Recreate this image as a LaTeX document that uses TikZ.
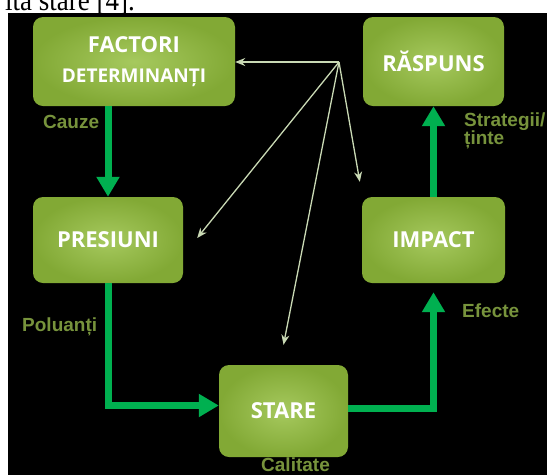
\documentclass[tikz,border=0pt]{standalone}
\usepackage{fontspec}
\setmainfont{Liberation Serif}
\newfontfamily\boxfont{Open Sans}
\newfontfamily\lblfont{Liberation Sans}
\usetikzlibrary{arrows.meta}

\definecolor{boxlight}{HTML}{A6C95E}
\definecolor{boxdark}{HTML}{82A935}
\definecolor{flowgreen}{HTML}{00B050}
\definecolor{lblgreen}{HTML}{77933C}
\definecolor{thinline}{HTML}{C9D9B4}

\tikzset{
  stage/.style={rounded corners=10pt, inner color=boxlight, outer color=boxdark,
    text=white, font=\boxfont\bfseries\fontsize{22}{28}\selectfont,
    align=center, inner sep=0pt},
  flow/.style={flowgreen, line width=7pt, line join=miter,
    -{Triangle[width=22pt,length=20pt]}},
  link/.style={thinline, line width=1.3pt, -{Stealth[width=8pt,length=10pt]}},
  lbl/.style={text=lblgreen, font=\lblfont\bfseries\fontsize{19}{18}\selectfont,
    inner sep=0pt, anchor=base west},
}

\begin{document}
\begin{tikzpicture}[x=1pt,y=-1pt]
  \useasboundingbox (0,0) rectangle (547,475);
  % text of the page above the figure
  \node[anchor=base west, inner sep=0pt, font=\fontsize{30}{30}\selectfont] (cite) at (5,10) {\scalebox{0.9}[1]{ită stare [4].}};
  \fill[black] (8,13) rectangle (547,475);

  % Stages (manual placement)
  \node[stage, minimum width=202pt, minimum height=89pt, font=\boxfont\bfseries\fontsize{22}{30}\selectfont] (fact) at (134,61.5) {FACTORI\\{\fontsize{19}{29}\selectfont DETERMINANȚI}};
  \node[stage, minimum width=141pt, minimum height=89pt] (rasp) at (433.5,61.5) {RĂSPUNS};
  \node[stage, minimum width=150pt, minimum height=86pt] (pres) at (108,240) {PRESIUNI};
  \node[stage, minimum width=143pt, minimum height=86pt] (imp) at (433.5,240) {IMPACT};
  \node[stage, minimum width=129pt, minimum height=92pt] (stare) at (283.5,411) {STARE};

  % labels
  \node[lbl] (cauze) at (43,128) {Cauze};
  \node[lbl, align=left, anchor=north west] (strat) at (464,113) {Strategii/\\ținte};
  \node[lbl] (polu) at (22,331) {Poluanți};
  \node[lbl] (efect) at (462,317) {Efecte};
  \node[lbl] (calit) at (261,471) {Calitate};

  % DPSIR cycle
  \draw[flow] (fact.south -| pres) -- (pres.north);
  \draw[flow] (pres.south) |- ([yshift=5.5pt]stare.west);
  \draw[flow] ([yshift=3pt]stare.east) -| ([yshift=-9pt]imp.south);
  \draw[flow] (imp.north) -- (rasp.south);

  % links from the common point
  \coordinate (hub) at (339,62);
  \draw[link] (hub) -- (fact.east |- hub);
  \draw[link] (hub) -- ([xshift=14pt,yshift=2pt]pres.east);
  \draw[link] (hub) -- ([yshift=20pt]stare.north);
  \draw[link] (hub) -- ([xshift=-2pt,yshift=15pt]imp.north west);
\end{tikzpicture}
\end{document}
